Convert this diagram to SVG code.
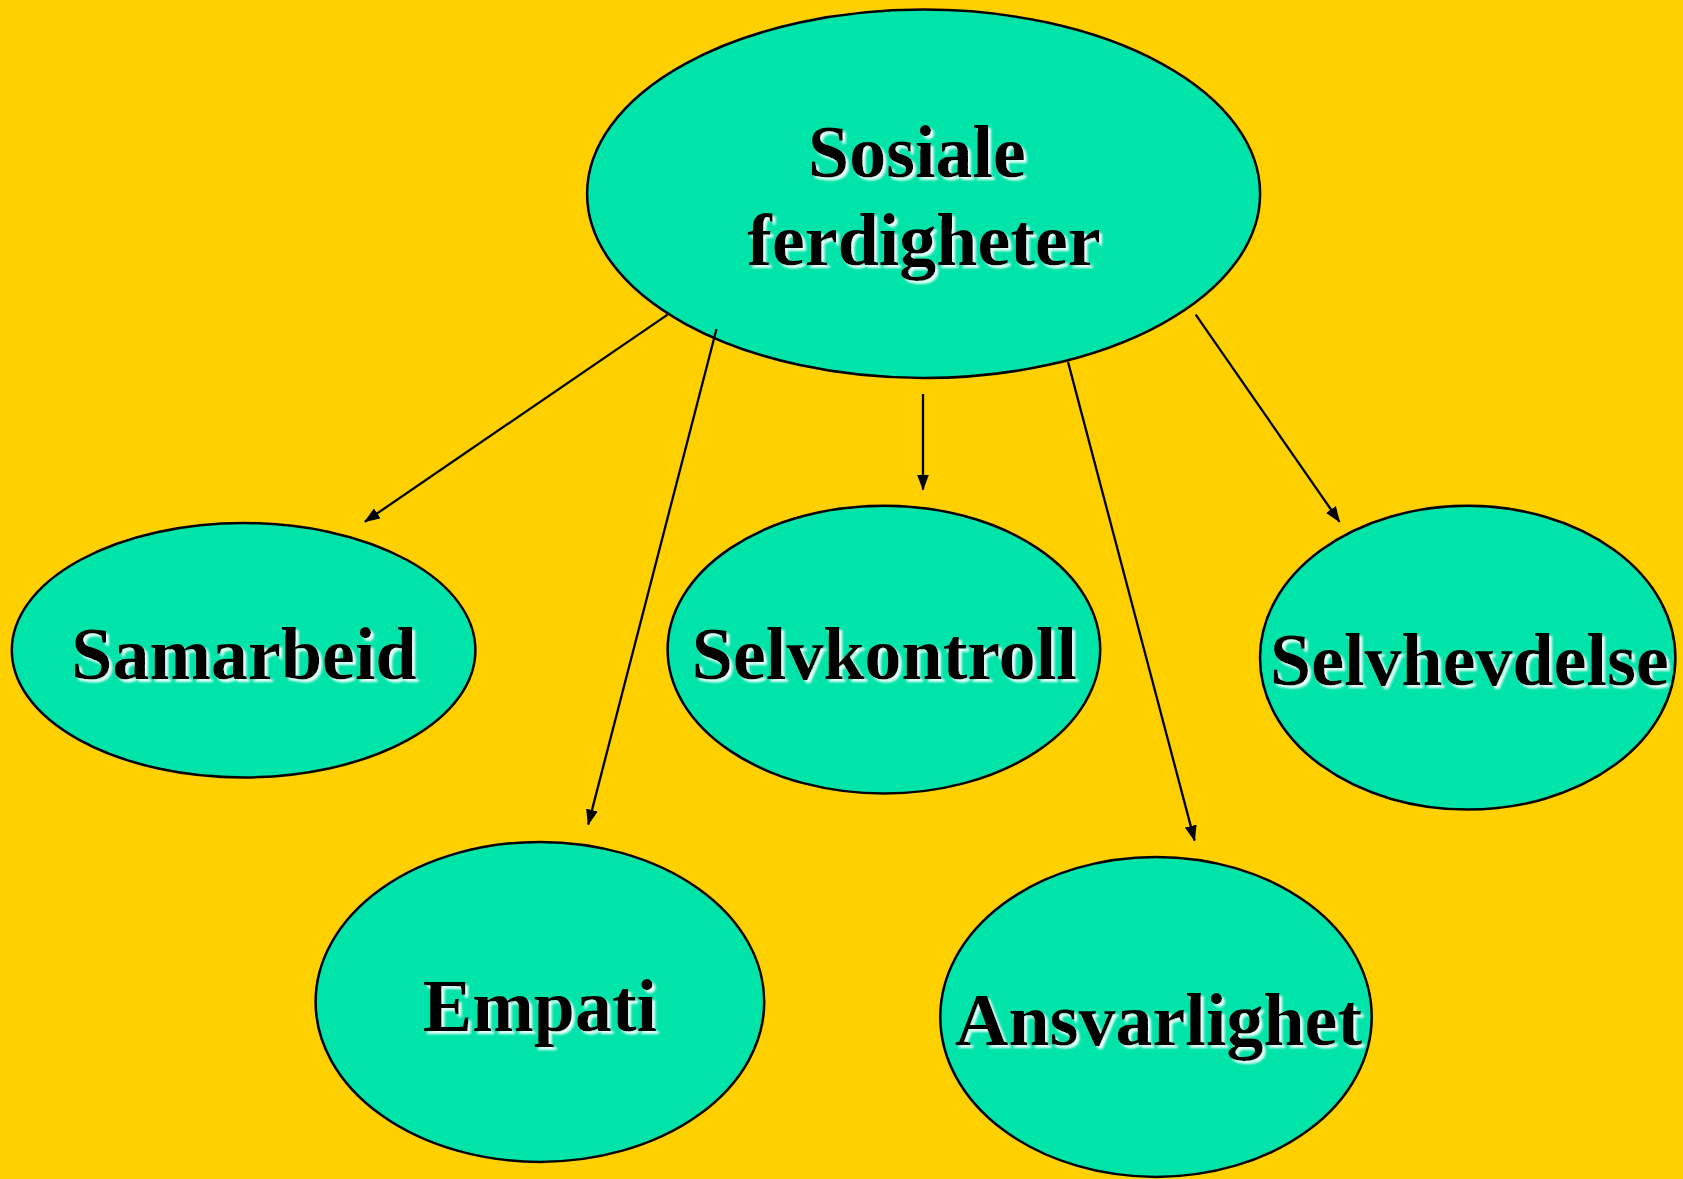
<svg xmlns="http://www.w3.org/2000/svg" width="1683" height="1179" viewBox="0 0 1683 1179">
<style>
.node ellipse{fill:#00E4AA;stroke:#000;stroke-width:2.5}
.lbl{font-family:"Liberation Serif","Times New Roman",serif;font-weight:bold;font-size:74px;fill:#000;text-anchor:middle;filter:url(#sh)}
.conn line{stroke:#000;stroke-width:2.3;marker-end:url(#arr)}
</style>
<defs>
<filter id="sh" x="-10%" y="-20%" width="120%" height="150%">
<feDropShadow dx="3" dy="3" stdDeviation="1.2" flood-color="#ffffff" flood-opacity="0.9"/>
</filter>
<marker id="arr" markerUnits="userSpaceOnUse" markerWidth="16" markerHeight="12" refX="15" refY="6" orient="auto">
<path d="M0,0 L16,6 L0,12 z" fill="#000"/>
</marker>
</defs>
<rect width="1683" height="1179" fill="#FFD000"/>
<g id="sosiale" class="node">
<ellipse cx="923.6" cy="193.8" rx="336.5" ry="184.2"/>
<text class="lbl" x="917" y="177">Sosiale</text>
<text class="lbl" x="924" y="265">ferdigheter</text>
</g>
<g id="samarbeid" class="node">
<ellipse cx="243.6" cy="650.2" rx="231.8" ry="127.2"/>
<text class="lbl" x="244" y="679">Samarbeid</text>
</g>
<g id="empati" class="node">
<ellipse cx="539.9" cy="1001.9" rx="224.3" ry="160"/>
<text class="lbl" x="540" y="1031">Empati</text>
</g>
<g id="selvkontroll" class="node">
<ellipse cx="883.9" cy="649.6" rx="216.3" ry="143.9"/>
<text class="lbl" x="884.4" y="679">Selvkontroll</text>
</g>
<g id="ansvarlighet" class="node">
<ellipse cx="1156" cy="1016.9" rx="215.7" ry="160"/>
<text class="lbl" x="1158.6" y="1045">Ansvarlighet</text>
</g>
<g id="selvhevdelse" class="node">
<ellipse cx="1467.7" cy="657.7" rx="207.7" ry="151.9"/>
<text class="lbl" x="1469.4" y="685">Selvhevdelse</text>
</g>
<g id="connectors" class="conn">
<line x1="667.6" y1="314.6" x2="364.9" y2="521.8"/>
<line x1="716.5" y1="329" x2="588.2" y2="824.6"/>
<line x1="923" y1="394" x2="923" y2="489.6"/>
<line x1="1068" y1="361.9" x2="1194.6" y2="840.6"/>
<line x1="1195.7" y1="314.6" x2="1339.5" y2="521.8"/>
</g>
</svg>
